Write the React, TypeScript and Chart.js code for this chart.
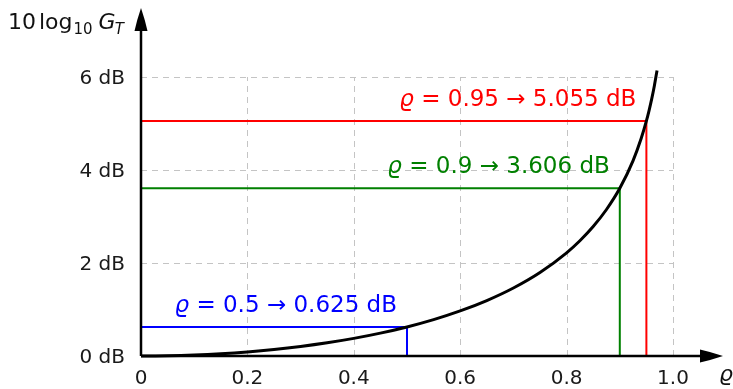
import React, { useEffect, useRef } from "react";
import { Chart, registerables } from "chart.js";

Chart.register(...registerables);

// curve: 10 log10 G_T versus rho
const rhoValues = [0, 0.05, 0.1, 0.15, 0.2, 0.25, 0.3, 0.35, 0.4, 0.45, 0.5, 0.55, 0.6, 0.65, 0.7, 0.75, 0.8, 0.825, 0.85, 0.875, 0.9, 0.925, 0.94, 0.95, 0.955, 0.96, 0.965, 0.97];
const gainDb = [0, 0.0054, 0.0218, 0.0494, 0.0886, 0.1401, 0.2048, 0.2838, 0.3786, 0.4914, 0.6247, 0.7823, 0.9691, 1.1922, 1.4622, 1.7951, 2.2185, 2.4786, 2.7837, 3.1503, 3.6062, 4.2025, 4.6702, 5.055, 5.2782, 5.5284, 5.8129, 6.1421];

// highlighted points
const markerRho = [0.5, 0.9, 0.95];
const markerDb = [0.625, 3.606, 5.055];
const markerColors = ["#0000ff", "#008000", "#ff0000"];

// ticks
const xTicks = [0, 0.2, 0.4, 0.6, 0.8, 1.0];
const xTickLabels = ["0", "0.2", "0.4", "0.6", "0.8", "1.0"];
const yTicks = [0, 2, 4, 6];
const yTickLabels = ["0 dB", "2 dB", "4 dB", "6 dB"];

const X_MAX = 1.094;
const Y_MAX = 7.484;

const FONT = "'DejaVu Sans', sans-serif";

function drawArrowHead(ctx: CanvasRenderingContext2D, tipX: number, tipY: number, dir: "right" | "up") {
  const len = 23;
  const half = 6.5;
  ctx.beginPath();
  if (dir === "right") {
    ctx.moveTo(tipX, tipY);
    ctx.quadraticCurveTo(tipX - len * 0.5, tipY - half * 0.6, tipX - len, tipY - half);
    ctx.lineTo(tipX - len, tipY + half);
    ctx.quadraticCurveTo(tipX - len * 0.5, tipY + half * 0.6, tipX, tipY);
  } else {
    ctx.moveTo(tipX, tipY);
    ctx.quadraticCurveTo(tipX - half * 0.6, tipY + len * 0.5, tipX - half, tipY + len);
    ctx.lineTo(tipX + half, tipY + len);
    ctx.quadraticCurveTo(tipX + half * 0.6, tipY + len * 0.5, tipX, tipY);
  }
  ctx.closePath();
  ctx.fill();
}

const overlayPlugin = {
  id: "overlay",
  beforeDatasetsDraw(chart: any) {
    const { ctx, scales } = chart;
    const x = scales.x;
    const y = scales.y;
    const gx0 = x.getPixelForValue(0);
    const gx1 = x.getPixelForValue(xTicks[xTicks.length - 1]);
    const gy0 = y.getPixelForValue(0);
    const gy1 = y.getPixelForValue(yTicks[yTicks.length - 1]);
    ctx.save();
    ctx.strokeStyle = "#c4c4c4";
    ctx.lineWidth = 1;
    ctx.setLineDash([6, 5]);
    for (const v of xTicks) {
      if (v === 0) continue;
      const px = Math.round(x.getPixelForValue(v)) + 0.5;
      ctx.beginPath();
      ctx.moveTo(px, gy0);
      ctx.lineTo(px, gy1);
      ctx.stroke();
    }
    for (const v of yTicks) {
      if (v === 0) continue;
      const py = Math.round(y.getPixelForValue(v)) + 0.5;
      ctx.beginPath();
      ctx.moveTo(gx0, py);
      ctx.lineTo(gx1, py);
      ctx.stroke();
    }
    ctx.restore();
  },
  afterDatasetsDraw(chart: any) {
    const { ctx, scales, chartArea } = chart;
    const x = scales.x;
    const y = scales.y;
    const ox = x.getPixelForValue(0);
    const oy = y.getPixelForValue(0);
    ctx.save();
    // axes
    ctx.strokeStyle = "#000";
    ctx.fillStyle = "#000";
    ctx.lineWidth = 2.5;
    ctx.beginPath();
    ctx.moveTo(ox, oy);
    ctx.lineTo(chartArea.right - 15, oy);
    ctx.stroke();
    ctx.beginPath();
    ctx.moveTo(ox, oy);
    ctx.lineTo(ox, chartArea.top + 15);
    ctx.stroke();
    drawArrowHead(ctx, chartArea.right, oy, "right");
    drawArrowHead(ctx, ox, chartArea.top, "up");

    // marker labels
    ctx.textBaseline = "alphabetic";
    for (let i = 0; i < markerRho.length; i++) {
      const px = x.getPixelForValue(markerRho[i]);
      const py = y.getPixelForValue(markerDb[i]);
      const rest = " = " + String(markerRho[i]) + " \u2192 " + String(markerDb[i]) + " dB";
      ctx.fillStyle = markerColors[i];
      ctx.font = "23px " + FONT;
      const wRest = ctx.measureText(rest).width;
      ctx.font = "italic 23px " + FONT;
      const wRho = ctx.measureText("\u03f1").width;
      const right = px - 10;
      const base = py - 15;
      ctx.textAlign = "left";
      ctx.fillText("\u03f1", right - wRest - wRho, base);
      ctx.font = "23px " + FONT;
      ctx.fillText(rest, right - wRest, base);
    }

    // y axis title: 10 log10 G_T
    ctx.fillStyle = "#111";
    ctx.textAlign = "left";
    let tx = 8;
    const tb = 29;
    ctx.font = "22px " + FONT;
    ctx.fillText("10", tx, tb);
    tx += ctx.measureText("10").width + 3;
    ctx.fillText("log", tx, tb);
    tx += ctx.measureText("log").width + 1;
    ctx.font = "15px " + FONT;
    ctx.fillText("10", tx, tb + 5);
    tx += ctx.measureText("10").width + 6;
    ctx.font = "italic 22px " + FONT;
    ctx.fillText("G", tx, tb);
    tx += ctx.measureText("G").width - 1;
    ctx.font = "italic 15px " + FONT;
    ctx.fillText("T", tx, tb + 5);

    // x axis title
    ctx.font = "italic 22px " + FONT;
    ctx.textAlign = "center";
    ctx.fillText("\u03f1", chartArea.right + 3, 381);
    ctx.restore();
  },
};

export default function App() {
  const canvasRef = useRef<HTMLCanvasElement | null>(null);

  useEffect(() => {
    const canvas = canvasRef.current;
    if (!canvas) return;

    const datasets: any[] = [
      {
        label: "curve",
        data: rhoValues.map((r, i) => ({ x: r, y: gainDb[i] })),
        showLine: true,
        borderColor: "#000",
        borderWidth: 3,
        pointRadius: 0,
        cubicInterpolationMode: "monotone",
        order: 0,
        clip: false,
      },
    ];
    markerRho.forEach((r, i) => {
      datasets.push({
        label: "m" + i,
        data: [
          { x: 0, y: markerDb[i] },
          { x: r, y: markerDb[i] },
          { x: r, y: 0 },
        ],
        showLine: true,
        borderColor: markerColors[i],
        borderWidth: 2,
        pointRadius: 0,
        tension: 0,
        order: 1,
      });
    });

    const chart = new Chart(canvas, {
      type: "scatter",
      data: { datasets },
      options: {
        animation: false,
        responsive: false,
        events: [],
        layout: { padding: { top: 8, right: 10, left: 0, bottom: 0 } },
        plugins: { legend: { display: false }, tooltip: { enabled: false } },
        scales: {
          x: {
            type: "linear",
            min: 0,
            max: X_MAX,
            grid: { display: false, drawTicks: false },
            border: { display: false },
            afterBuildTicks: (scale: any) => {
              scale.ticks = xTicks.map((v) => ({ value: v }));
            },
            afterFit: (scale: any) => {
              scale.height = 33;
              scale.paddingLeft = 0;
              scale.paddingRight = 0;
            },
            ticks: {
              autoSkip: false,
              maxRotation: 0,
              padding: 11,
              color: "#1a1a1a",
              font: { family: FONT, size: 20 },
              callback: (v: any) => {
                const idx = xTicks.indexOf(Number(v));
                return idx >= 0 ? xTickLabels[idx] : "";
              },
            },
          },
          y: {
            type: "linear",
            min: 0,
            max: Y_MAX,
            grid: { display: false, drawTicks: false },
            border: { display: false },
            afterBuildTicks: (scale: any) => {
              scale.ticks = yTicks.map((v) => ({ value: v }));
            },
            afterFit: (scale: any) => {
              scale.width = 141;
              scale.paddingTop = 0;
              scale.paddingBottom = 0;
            },
            ticks: {
              autoSkip: false,
              padding: 16,
              labelOffset: 2,
              color: "#1a1a1a",
              font: { family: FONT, size: 20 },
              callback: (v: any) => {
                const idx = yTicks.indexOf(Number(v));
                return idx >= 0 ? yTickLabels[idx] : "";
              },
            },
          },
        },
      },
      plugins: [overlayPlugin],
    } as any);

    return () => chart.destroy();
  }, []);

  return (
    <div style={{ position: "absolute", left: 0, top: 0, width: 733, height: 389, background: "#fff" }}>
      <canvas ref={canvasRef} width={733} height={389} style={{ display: "block" }} />
    </div>
  );
}
